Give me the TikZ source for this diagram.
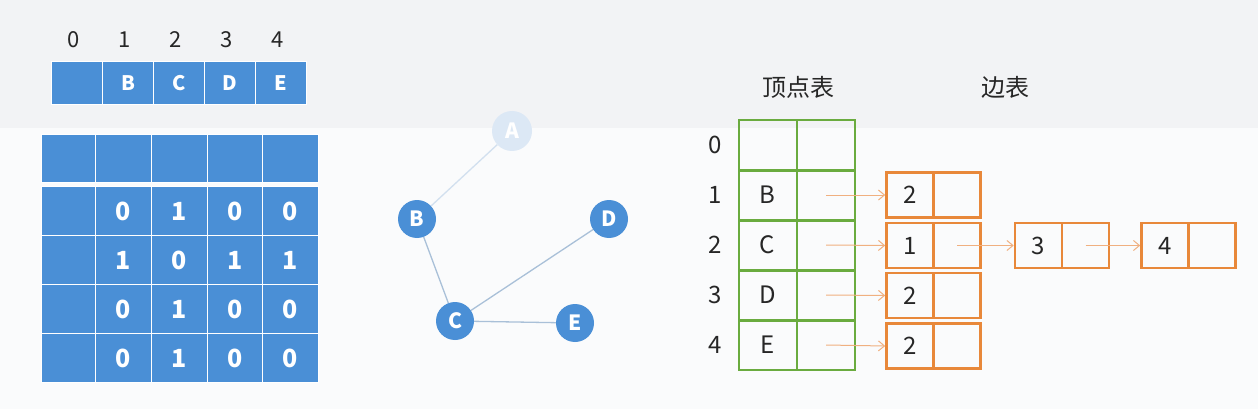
\documentclass[tikz,border=0pt]{standalone}
\usepackage{fontspec}
\setmainfont{Noto Sans CJK SC}
\usetikzlibrary{arrows.meta}
\definecolor{bgtop}{HTML}{F2F3F5}
\definecolor{bgbot}{HTML}{FAFBFC}
\definecolor{mblue}{HTML}{4A8FD6}
\definecolor{vblue}{HTML}{4A8FD6}
\definecolor{pale}{HTML}{DCE8F5}
\definecolor{edgec}{HTML}{A9C0D8}
\definecolor{gr}{HTML}{6AAB3F}
\definecolor{og}{HTML}{E8883A}
\definecolor{oa}{HTML}{F0B080}
\tikzset{
  cell/.style={draw=white, line width=1.5pt, fill=mblue, minimum width=#1, minimum height=49pt, inner sep=0pt, text=white, font=\fontsize{25}{25}\selectfont\bfseries},
  acell/.style={draw=white, line width=1pt, fill=mblue, minimum width=51pt, minimum height=43pt, inner sep=0pt, text=white, font=\fontsize{20}{20}\selectfont\bfseries},
  idx/.style={font=\fontsize{22}{22}\selectfont, text=black!85, inner sep=0pt},
  vert/.style={circle, fill=vblue, minimum size=38pt, inner sep=0pt, text=white, font=\fontsize{21}{21}\selectfont\bfseries},
  gedge/.style={draw=edgec, line width=1.3pt},
  vbox/.style={draw=gr, line width=2pt, minimum width=58pt, minimum height=49pt, inner sep=0pt, font=\fontsize{24}{24}\selectfont, text=black!85},
  ebox/.style={draw=og, line width=2.6pt, minimum width=47pt, minimum height=45pt, inner sep=0pt, font=\fontsize{24}{24}\selectfont, text=black!85},
  mval/.style={text=white, font=\fontsize{25}{25}\selectfont\bfseries},
  parr/.style={draw=oa, line width=1pt, -{Straight Barb[length=6pt,width=10pt]}},
}
\begin{document}
\begin{tikzpicture}[x=1pt,y=-1pt]
\fill[bgbot] (0,0) rectangle (1258,409);
\fill[bgtop] (0,0) rectangle (1258,128);
\useasboundingbox (0,0) rectangle (1258,409);
% top array
\foreach \i/\x/\t in {0/77/,1/128/B,2/179/C,3/230/D,4/281/E}{
  \node[acell] (a\i) at (\x,83) {\t};
  \node[idx] (ai\i) at (\x-3,40) {\i};
}
% matrix
\foreach \c/\x/\w in {0/68.5/54,1/123.5/56,2/179.5/56,3/235/55,4/290.5/56}{
  \node[cell=\w pt, minimum height=48pt] (h\c) at (\x,158.5) {};
}
\foreach \r/\y in {1/211,2/260,3/309,4/358}{
  \foreach \c/\x/\w in {0/68.5/54,1/123.5/56,2/179.5/56,3/235/55,4/290.5/56}{
    \node[cell=\w pt] (m\r\c) at (\x,\y) {};
  }
}
\foreach \r/\a/\b/\c/\d in {1/0/1/0/0,2/1/0/1/1,3/0/1/0/0,4/0/1/0/0}{
  \node[mval] at (m\r1) {\a};
  \node[mval] at (m\r2) {\b};
  \node[mval] at (m\r3) {\c};
  \node[mval] at (m\r4) {\d};
}
% graph
\node[vert, fill=pale, minimum size=40pt] (A) at (512,131) {A};
\node[vert] (B) at (417,219) {B};
\node[vert] (D) at (609,219) {D};
\node[vert] (C) at (455,321) {C};
\node[vert] (E) at (575,323) {E};
\draw[gedge, draw=pale!80!edgec] (A) -- (B);
\draw[gedge] (B) -- (C);
\draw[gedge] (C) -- (D);
\draw[gedge] (C) -- (E);
% headers
\node[font=\fontsize{24}{24}\selectfont, text=black!85] (hv) at (798,87) {顶点表};
\node[font=\fontsize{24}{24}\selectfont, text=black!85] (he) at (1005,87) {边表};
% vertex table
\foreach \i/\y/\t in {0/145/,1/195/B,2/245/C,3/295/D,4/345/E}{
  \node[vbox] (v\i a) at (767.5,\y) {\t};
  \node[vbox] (v\i b) at (826,\y) {};
  \node[idx, font=\fontsize{24}{24}\selectfont] (vi\i) at (715,\y) {\i};
}
% edge table
\foreach \n/\x/\y/\t in {e1/910/195/2,e2/910/245.5/1,e3/910/295.5/2,e4/910/346/2,f2/1038.5/245.5/3,g2/1165/245.5/4}{
  \node[ebox] (\n a) at (\x,\y) {\t};
  \node[ebox] (\n b) at (\x+47,\y) {};
}
% arrows
\foreach \i in {1,2,3,4}{
  \draw[parr] (v\i b.center) -- (e\i a.west);
}
\draw[parr] (e2b.center) -- (f2a.west);
\draw[parr] (f2b.center) -- (g2a.west);
\end{tikzpicture}
\end{document}
